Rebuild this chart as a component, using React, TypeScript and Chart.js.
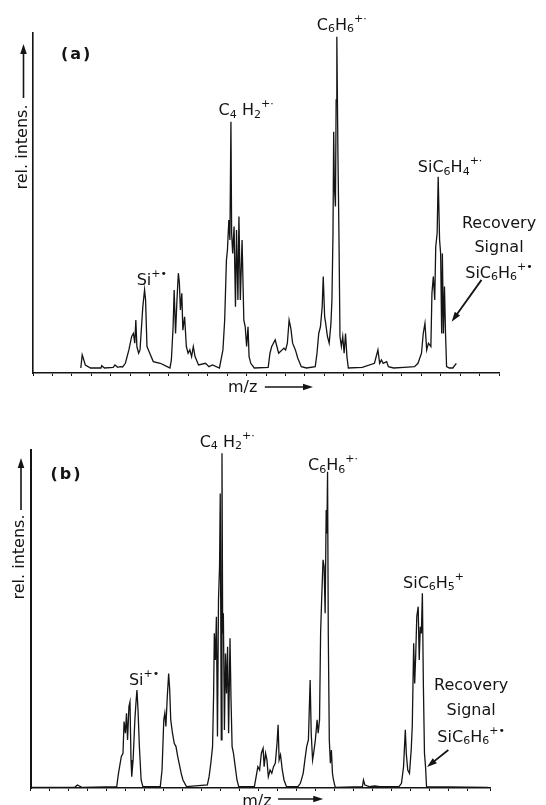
import React, { useEffect, useRef } from 'react';
import { Chart, registerables } from 'chart.js';

Chart.register(...registerables);

const FONT = '"DejaVu Sans", "Open Sans", sans-serif';
const INK = '#141414';

// ---------- Panel (a) ----------
const mzA = [12.31, 12.67, 13.48, 14.82, 17.51, 17.69, 18.41, 20.65, 21.10, 21.82, 22.45, 23.07,
  23.79, 24.69, 25.41, 25.86, 26.21, 26.48, 26.75, 27.20, 27.56, 28.28, 28.73, 28.99, 29.35, 30.07, 30.97, 32.76, 34.56, 35.27,
  35.63, 36.08, 36.35, 36.71, 37.07, 37.43, 37.70, 37.96, 38.32, 38.59, 39.04, 39.49, 39.94, 40.39, 40.84, 41.28, 41.73, 42.63, 44.42, 45.32, 46.22, 48.01,
  48.91, 49.36, 49.81, 50.07, 50.43, 50.70, 50.97, 51.15, 51.42, 51.78, 52.14, 52.41, 52.77, 53.03, 53.39, 53.84, 54.29, 54.65, 55.01, 55.37, 55.64, 56.08, 56.98,
  60.57, 61.02, 61.47, 61.91, 62.36, 62.81, 63.26, 63.71, 64.16, 64.61, 65.05, 65.50, 65.95, 66.40, 66.85, 67.57, 68.19, 69.09, 70.44,
  72.68, 73.13, 73.58, 74.02, 74.47, 74.74, 75.10, 75.37, 75.82, 76.27, 76.72, 76.98, 77.25, 77.43, 77.61, 77.88, 78.06, 78.24, 78.51, 78.78, 79.05, 79.41, 79.76, 80.12, 80.48, 80.84, 81.20,
  84.79, 87.93, 88.82, 89.27, 89.72, 90.17, 91.07, 91.52, 92.86, 95.55, 98.24,
  99.14, 100.04, 100.49, 100.93, 101.38, 101.83, 102.46, 102.73, 103.09, 103.45, 103.71, 104.07, 104.34, 104.70, 104.97, 105.24, 105.42, 105.69, 105.96, 106.23, 106.50, 107.21, 108.11, 109.01];
const intensA = [0, 3.9, 0.9, 0, 0, 0.7, 0, 0.2, 0.9, 0.2, 0.4, 0.3,
  1.4, 5.4, 9.4, 10.3, 7.4, 14.3, 6.4, 4.4, 5.4, 18.3, 23.3, 20.3, 6.4, 4.4, 1.9, 1.4, 0.4, 0,
  2.4, 12.3, 23.3, 10.3, 20.3, 28.3, 25.3, 17.3, 22.3, 11.3, 15.3, 6.4, 4.4, 5.4, 3.4, 6.4, 3.4, 0.9, 1.4, 0.4, 0.9, 0,
  5.4, 14.3, 32.2, 35.2, 44.2, 38.2, 73.5, 40.2, 34.2, 42.2, 18.3, 41.2, 20.3, 45.2, 20.3, 38.2, 14.3, 12.3, 6.4, 12.3, 3.4, 1.4, 0,
  0.2, 4.4, 6.4, 7.4, 8.4, 6.4, 4.4, 4.9, 5.4, 5.9, 5.4, 7.4, 14.3, 11.8, 7.4, 5.4, 2.9, 0.4, 0,
  0.4, 4.4, 10.3, 12.3, 18.3, 27.3, 15.3, 13.3, 9.4, 7.4, 13.3, 20.3, 40.2, 70.5, 54.1, 48.2, 80, 98.9, 65.1, 40.2, 9.4, 6.4, 9.4, 4.4, 10.3, 3.4, 0,
  0.2, 1.4, 5.4, 1.4, 2.4, 1.4, 1.9, 0.4, 0, 0.2, 0.4,
  1.4, 4.4, 10.3, 13.3, 5.4, 7.4, 6.4, 22.3, 27.3, 20.3, 36.2, 40.2, 57.1, 38.2, 34.2, 10.3, 34.2, 10.3, 24.3, 10.3, 0.4, 0, 0, 1.4];

const peakLabelsA = ['Si^{+•}', 'C_4 H_2^{+·}', 'C_6H_6^{+·}', 'SiC_6H_4^{+·}'];
const peakLabelMzA = [26.7, 47.8, 73.1, 99.1];
const peakLabelIntA = [24.8, 75.5, 100.9, 58.5];
const recoveryLines = ['Recovery', 'Signal', 'SiC_6H_6^{+•}'];
const recoveryMzA = 120.0;
const recoveryIntA = [41.8, 34.6, 26.9];
const recArrowMzA = [115.5, 107.8];
const recArrowIntA = [26.3, 13.8];
const xTitleMzA = [50.2, 59.7, 72.1];

// ---------- Panel (b) ----------
const mzB = [0, 11.68, 12.32, 13.52, 22.68,
  23.14, 23.88, 24.33, 24.61, 24.97, 25.25, 25.53, 25.89, 26.17, 26.44, 26.63, 26.99, 27.45, 27.73, 28.00, 28.28, 28.64, 29.10, 29.56,
  34.14, 34.60, 35.06, 35.33, 35.61, 35.98, 36.34, 36.62, 36.89, 37.35, 37.81, 38.27, 38.73, 39.18, 39.64, 40.10, 41.02,
  46.52, 46.98, 47.43, 47.89, 48.17, 48.35, 48.63, 48.90, 49.18, 49.45, 49.73, 49.91, 50.19, 50.37, 50.55, 50.73, 51.01, 51.29, 51.56, 51.84, 52.11, 52.48, 52.75, 53.03, 53.39, 53.85, 54.31, 54.77,
  58.89, 59.35, 59.81, 60.27, 60.73, 61.18, 61.46, 61.83, 62.19, 62.56, 63.02, 63.47, 63.93, 64.39, 64.85, 65.13, 65.40, 65.77, 66.23, 66.69, 67.33,
  70.35, 70.99, 71.73, 72.18, 72.64, 73.10, 73.56, 73.84, 74.20, 74.48, 74.93, 75.39, 75.67, 76.03, 76.31, 76.58, 76.95, 77.23, 77.50, 77.78, 77.96, 78.14, 78.33, 78.60, 78.88, 79.15, 79.43, 79.70, 80.16,
  87.31, 87.59, 87.95, 89.14, 90.52, 91.90,
  96.93, 97.58, 98.13, 98.59, 98.86, 99.23, 99.69, 100.14, 100.42, 100.79, 101.06, 101.34, 101.61, 101.98, 102.25, 102.53, 102.81, 103.08, 103.35, 103.63, 103.91, 104.18, 120.3];
const intensB = [0, 0, 0.7, 0, 0.2,
  4.2, 9.2, 10.2, 19.7, 16.2, 22.2, 14.2, 24.2, 25.6, 8.2, 3.2, 8.2, 20.2, 25.1, 29.1, 23.2, 12.2, 2.2, 0.2,
  0.2, 5.2, 20.2, 22.2, 18.2, 27.1, 34.1, 29.1, 20.2, 16.2, 13.2, 12.2, 9.2, 6.7, 4.2, 2.2, 0.2,
  0.7, 3.2, 7.2, 12.2, 28.1, 46.1, 38.1, 51.1, 15.2, 56.1, 66.1, 88, 14.2, 100, 46.1, 52.1, 17.2, 40.1, 28.1, 42.1, 16.2, 44.6, 26.1, 12.2, 10.2, 6.2, 2.2, 0.2,
  0.2, 3.2, 6.2, 5.2, 10.2, 11.7, 6.2, 10.2, 8.2, 3.2, 5.2, 4.2, 6.2, 7.2, 13.2, 18.7, 8.2, 9.7, 5.2, 2.2, 0.2,
  0.2, 1.2, 4.2, 8.2, 12.2, 14.2, 32.1, 16.2, 8.2, 10.2, 14.2, 20.2, 16.2, 20.2, 46.1, 56.1, 68.1, 66.1, 52.1, 83, 76, 94.5, 46.1, 14.2, 7.2, 11.2, 4.2, 2.2, 0,
  0.2, 2.2, 0.7, 0.2, 0.4, 0.2,
  0.2, 1.2, 6.2, 17.2, 10, 5.2, 4.2, 11.2, 18.2, 43.1, 31.1, 40.1, 51.1, 54.1, 38.1, 48.1, 46.1, 58.1, 30.1, 10.2, 6.2, 0.2, 0];

const peakLabelsB = ['Si^{+•}', 'C_4 H_2^{+·}', 'C_6H_6^{+·}', 'SiC_6H_5^{+}'];
const peakLabelMzB = [25.9, 44.5, 73.0, 98.0];
const peakLabelIntB = [30.6, 101.9, 95.0, 59.7];
const recoveryMzB = 115.9;
const recoveryIntB = [29.1, 21.6, 13.6];
const recArrowMzB = [109.9, 104.3];
const recArrowIntB = [11.2, 6.1];
const xTitleMzB = [55.7, 65.1, 77.0];

type Seg = { t: string; k: 'n' | 'sub' | 'sup' };

function parseRich(s: string): Seg[] {
  const segs: Seg[] = [];
  let buf = '';
  let i = 0;
  const flush = () => { if (buf) { segs.push({ t: buf, k: 'n' }); buf = ''; } };
  while (i < s.length) {
    const c = s[i];
    if (c === '_') { flush(); segs.push({ t: s[i + 1], k: 'sub' }); i += 2; }
    else if (c === '^') { flush(); const e = s.indexOf('}', i); segs.push({ t: s.slice(i + 2, e), k: 'sup' }); i = e + 1; }
    else { buf += c; i++; }
  }
  flush();
  return segs;
}

function drawRich(ctx: CanvasRenderingContext2D, s: string, x: number, y: number, align: 'left' | 'center') {
  const segs = parseRich(s);
  const fontOf = (k: string) => (k === 'n' ? `16px ${FONT}` : `11px ${FONT}`);
  let w = 0;
  segs.forEach((g) => { ctx.font = fontOf(g.k); w += ctx.measureText(g.t).width; });
  let cx = align === 'center' ? x - w / 2 : x;
  ctx.textAlign = 'left';
  ctx.textBaseline = 'alphabetic';
  segs.forEach((g) => {
    ctx.font = fontOf(g.k);
    const dy = g.k === 'sub' ? 2.5 : g.k === 'sup' ? -8 : 0;
    ctx.fillText(g.t, cx, y + dy);
    cx += ctx.measureText(g.t).width;
  });
}

function drawArrow(ctx: CanvasRenderingContext2D, x1: number, y1: number, x2: number, y2: number, head: number, lw: number) {
  const a = Math.atan2(y2 - y1, x2 - x1);
  const ca = Math.cos(a), sa = Math.sin(a);
  ctx.lineWidth = lw;
  ctx.beginPath();
  ctx.moveTo(x1, y1);
  ctx.lineTo(x2 - ca * head * 0.7, y2 - sa * head * 0.7);
  ctx.stroke();
  const hw = head * 0.33;
  ctx.beginPath();
  ctx.moveTo(x2, y2);
  ctx.lineTo(x2 - head * ca + hw * sa, y2 - head * sa - hw * ca);
  ctx.lineTo(x2 - head * ca - hw * sa, y2 - head * sa + hw * ca);
  ctx.closePath();
  ctx.fill();
}

type PanelCfg = {
  mz: number[]; inten: number[];
  xMax: number; yMin: number; yMax: number;
  pad: { left: number; right: number; top: number; bottom: number };
  labels: string[]; labelMz: number[]; labelInt: number[];
  recMz: number; recInt: number[]; arrMz: number[]; arrInt: number[];
  tag: string; tagDx: number; tagDy: number;
  yTitleDx: number; yTitleDy: number; yArrFrom: number; yArrTo: number;
  xTitleMz: number[]; xTitleDy: number; xArrDy: number;
  yBorder: number;
};

const cfgA: PanelCfg = {
  mz: mzA, inten: intensA, xMax: 120, yMin: -1.5, yMax: 100,
  pad: { left: 33, right: 47, top: 33, bottom: 24 },
  labels: peakLabelsA, labelMz: peakLabelMzA, labelInt: peakLabelIntA,
  recMz: recoveryMzA, recInt: recoveryIntA, arrMz: recArrowMzA, arrInt: recArrowIntA,
  tag: '(a)', tagDx: 28, tagDy: 22,
  yTitleDx: -10.5, yTitleDy: 114, yArrFrom: 65, yArrTo: 11,
  xTitleMz: xTitleMzA, xTitleDy: 15, xArrDy: 14, yBorder: 1.6,
};

const cfgB: PanelCfg = {
  mz: mzB, inten: intensB, xMax: 121, yMin: -0.2, yMax: 101,
  pad: { left: 30.5, right: 55.5, top: 50, bottom: 14 },
  labels: peakLabelsB, labelMz: peakLabelMzB, labelInt: peakLabelIntB,
  recMz: recoveryMzB, recInt: recoveryIntB, arrMz: recArrowMzB, arrInt: recArrowIntB,
  tag: '(b)', tagDx: 20, tagDy: 25,
  yTitleDx: -10.5, yTitleDy: 107, yArrFrom: 60, yArrTo: 8,
  xTitleMz: xTitleMzB, xTitleDy: 14, xArrDy: 11, yBorder: 2,
};

function Panel({ cfg, top, height }: { cfg: PanelCfg; top: number; height: number }) {
  const ref = useRef<HTMLCanvasElement>(null);
  useEffect(() => {
    const annot = {
      id: 'annot',
      afterDraw(chart: any) {
        const { ctx, chartArea: ca } = chart;
        const xs = chart.scales.x, ys = chart.scales.y;
        ctx.save();
        ctx.fillStyle = INK;
        ctx.strokeStyle = INK;
        cfg.labels.forEach((t, i) => drawRich(ctx, t, xs.getPixelForValue(cfg.labelMz[i]), ys.getPixelForValue(cfg.labelInt[i]), 'left'));
        recoveryLines.forEach((t, i) => drawRich(ctx, t, xs.getPixelForValue(cfg.recMz), ys.getPixelForValue(cfg.recInt[i]), 'center'));
        drawArrow(ctx, xs.getPixelForValue(cfg.arrMz[0]), ys.getPixelForValue(cfg.arrInt[0]),
          xs.getPixelForValue(cfg.arrMz[1]), ys.getPixelForValue(cfg.arrInt[1]), 10, 1.8);
        ctx.font = `bold 16px ${FONT}`;
        (ctx as any).letterSpacing = '2px';
        ctx.textAlign = 'left';
        ctx.textBaseline = 'middle';
        ctx.fillText(cfg.tag, ca.left + cfg.tagDx, ca.top + cfg.tagDy);
        (ctx as any).letterSpacing = '0px';
        ctx.save();
        ctx.translate(ca.left + cfg.yTitleDx, ca.top + cfg.yTitleDy);
        ctx.rotate(-Math.PI / 2);
        ctx.font = `16px ${FONT}`;
        ctx.textAlign = 'center';
        ctx.textBaseline = 'middle';
        ctx.fillText('rel. intens.', 0, 0);
        ctx.restore();
        drawArrow(ctx, ca.left + cfg.yTitleDx + 1, ca.top + cfg.yArrFrom, ca.left + cfg.yTitleDx + 1, ca.top + cfg.yArrTo, 10, 1.6);
        ctx.font = `16px ${FONT}`;
        ctx.textAlign = 'left';
        ctx.textBaseline = 'middle';
        ctx.fillText('m/z', xs.getPixelForValue(cfg.xTitleMz[0]), ca.bottom + cfg.xTitleDy);
        drawArrow(ctx, xs.getPixelForValue(cfg.xTitleMz[1]), ca.bottom + cfg.xArrDy,
          xs.getPixelForValue(cfg.xTitleMz[2]), ca.bottom + cfg.xArrDy, 10, 1.6);
        ctx.restore();
      },
    };

    const chart = new Chart(ref.current as HTMLCanvasElement, {
      type: 'line',
      data: {
        datasets: [{
          data: cfg.mz.map((m, i) => ({ x: m, y: cfg.inten[i] })),
          borderColor: INK,
          borderWidth: 1.3,
          pointRadius: 0,
          fill: false,
          tension: 0,
        }],
      },
      options: {
        responsive: false,
        maintainAspectRatio: false,
        animation: false,
        layout: { padding: cfg.pad },
        plugins: { legend: { display: false }, tooltip: { enabled: false } },
        scales: {
          x: {
            type: 'linear', min: 0, max: cfg.xMax,
            ticks: { display: false, stepSize: 5 },
            grid: { display: true, drawOnChartArea: false, drawTicks: true, tickLength: 3, color: INK, lineWidth: 1 },
            border: { display: true, color: INK, width: 1.6 },
          },
          y: {
            type: 'linear', min: cfg.yMin, max: cfg.yMax,
            ticks: { display: false },
            grid: { display: false, drawTicks: false },
            border: { display: true, color: INK, width: cfg.yBorder },
          },
        },
      },
      plugins: [annot],
    } as any);
    return () => chart.destroy();
  }, []);
  return (
    <canvas ref={ref} width={546} height={height}
      style={{ position: 'absolute', left: 0, top, width: 546, height, display: 'block' }} />
  );
}

export default function App() {
  return (
    <div style={{ position: 'absolute', left: 0, top: 0, width: 546, height: 805, background: '#fff', overflow: 'hidden' }}>
      <Panel cfg={cfgA} top={0} height={400} />
      <Panel cfg={cfgB} top={400} height={405} />
    </div>
  );
}
